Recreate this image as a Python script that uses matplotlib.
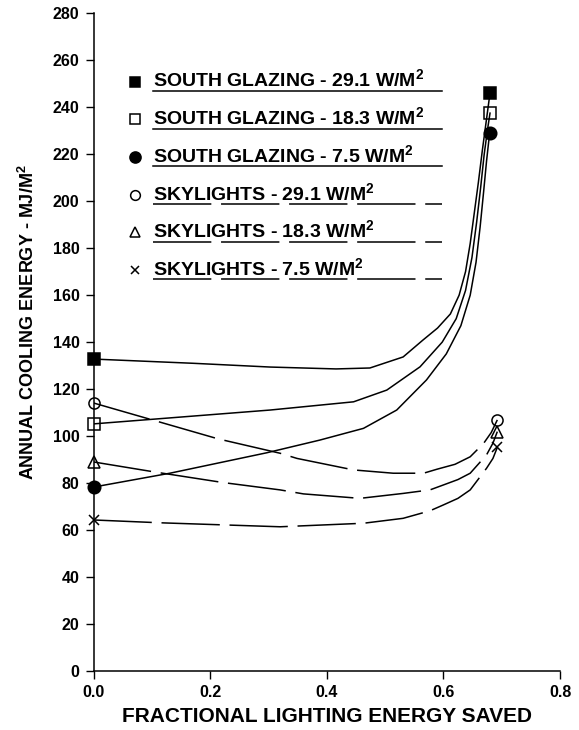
import matplotlib
matplotlib.use("Agg")
import matplotlib.pyplot as plt
from matplotlib.lines import Line2D

plt.rcParams['font.family'] = ['Liberation Sans', 'DejaVu Sans']
plt.rcParams['mathtext.fontset'] = 'custom'
plt.rcParams['mathtext.bf'] = 'Liberation Sans:bold'
plt.rcParams['mathtext.rm'] = 'Liberation Sans'
plt.rcParams['lines.scale_dashes'] = False

# values
sg29_x = [0.0, 0.171, 0.303, 0.416, 0.474, 0.531, 0.565, 0.590, 0.612, 0.627, 0.638, 0.646, 0.653, 0.660, 0.667, 0.674, 0.680]
sg29_y = [132.8, 131.0, 129.4, 128.6, 129.0, 133.7, 140.9, 146.0, 152.0, 160.0, 170.0, 182.0, 195.0, 208.0, 222.0, 235.0, 246.1]

sg18_x = [0.0, 0.303, 0.446, 0.503, 0.560, 0.598, 0.622, 0.638, 0.649, 0.657, 0.664, 0.670, 0.676, 0.680]
sg18_y = [105.2, 111.1, 114.6, 119.6, 129.5, 140.0, 150.0, 162.0, 176.0, 191.0, 206.0, 220.0, 231.0, 237.5]

sg75_x = [0.0, 0.131, 0.297, 0.388, 0.463, 0.520, 0.571, 0.605, 0.630, 0.646, 0.656, 0.663, 0.669, 0.674, 0.678, 0.680]
sg75_y = [78.3, 84.2, 92.9, 98.3, 103.3, 111.1, 123.9, 135.0, 147.0, 160.0, 174.0, 189.0, 204.0, 217.0, 226.0, 229.0]

sk29_x = [0.0, 0.091, 0.214, 0.320, 0.349, 0.446, 0.514, 0.566, 0.589, 0.620, 0.646, 0.669, 0.682, 0.6925]
sk29_y = [114.1, 107.6, 98.8, 92.7, 90.5, 85.6, 84.2, 84.2, 85.9, 88.0, 91.2, 96.9, 101.5, 106.9]

sk18_x = [0.0, 0.103, 0.223, 0.320, 0.360, 0.457, 0.531, 0.577, 0.600, 0.625, 0.646, 0.674, 0.685, 0.6925]
sk18_y = [89.0, 84.8, 80.2, 77.1, 75.4, 73.5, 75.6, 77.1, 79.2, 81.5, 84.2, 92.0, 97.0, 101.9]

sk75_x = [0.0, 0.114, 0.320, 0.463, 0.531, 0.577, 0.600, 0.625, 0.646, 0.674, 0.685, 0.6925]
sk75_y = [64.3, 63.1, 61.4, 62.9, 65.0, 68.2, 70.7, 73.5, 77.1, 86.3, 90.5, 95.2]

SUP = r'$^{\mathbf{2}}$'
labels = ['SOUTH GLAZING - 29.1 W/M' + SUP, 'SOUTH GLAZING - 18.3 W/M' + SUP,
          'SOUTH GLAZING - 7.5 W/M' + SUP, 'SKYLIGHTS - 29.1 W/M' + SUP,
          'SKYLIGHTS - 18.3 W/M' + SUP, 'SKYLIGHTS - 7.5 W/M' + SUP]

xticks = [0.0, 0.2, 0.4, 0.6, 0.8]
xtick_labels = ['0.0', '0.2', '0.4', '0.6', '0.8']
yticks = list(range(0, 281, 20))

DASH = (0, (42, 7))
series = [
    (sg29_x, sg29_y, 's', 'k', '-', 8),
    (sg18_x, sg18_y, 's', 'none', '-', 8),
    (sg75_x, sg75_y, 'o', 'k', '-', 9),
    (sk29_x, sk29_y, 'o', 'none', DASH, 8),
    (sk18_x, sk18_y, '^', 'none', DASH, 8),
    (sk75_x, sk75_y, 'x', 'k', DASH, 7),
]

W, H = 579, 730
fig = plt.figure(figsize=(W / 100, H / 100), dpi=100)


def fx(px):
    return px / W


def fy(py):
    return 1 - py / H


ax = fig.add_axes([fx(93.5), fy(671), fx(560) - fx(93.5), fy(13.3) - fy(671)])

for xs, ys, mk, fc, ls, ms in series:
    ax.plot(xs, ys, color='k', lw=1.1, ls=ls, solid_joinstyle='round')
    ax.plot([xs[0], xs[-1]], [ys[0], ys[-1]], ls='none', marker=mk, ms=ms,
            mfc=fc, mec='k', mew=1.1, clip_on=False)

ax.set_xlim(0, 0.8)
ax.set_ylim(0, 280)
ax.set_xticks(xticks)
ax.set_xticklabels(xtick_labels)
ax.set_yticks(yticks)
for side in ['top', 'right']:
    ax.spines[side].set_visible(False)
for side in ['left', 'bottom']:
    ax.spines[side].set_linewidth(1.1)
ax.tick_params(direction='out', length=6, width=1.0, labelsize=11.5, pad=4)
for t in ax.get_xticklabels() + ax.get_yticklabels():
    t.set_fontweight('bold')

fig.text(fx(327), fy(717), 'FRACTIONAL LIGHTING ENERGY SAVED', fontsize=15,
         fontweight='bold', ha='center', va='center')
fig.text(fx(28), fy(322), 'ANNUAL COOLING ENERGY - MJ/M' + SUP, fontsize=13,
         fontweight='bold', rotation=90, ha='center', va='center')

# hand-drawn style legend: marker, text, underline showing the line style
for i, ((xs, ys, mk, fc, ls, ms), lab) in enumerate(zip(series, labels)):
    base = 87.5 + 37.7 * i
    fig.add_artist(Line2D([fx(135)], [fy(base - 6)], marker=mk, ms=ms - 1,
                          mfc=fc, mec='k', mew=1.1, ls='none'))
    fig.text(fx(153), fy(base), lab, fontsize=14, fontweight='bold',
             ha='left', va='baseline')
    fig.add_artist(Line2D([fx(153), fx(441.7)], [fy(base + 3.5)] * 2,
                          color='k', lw=1.1, ls=ls))

fig.savefig('out.png', dpi=100)
